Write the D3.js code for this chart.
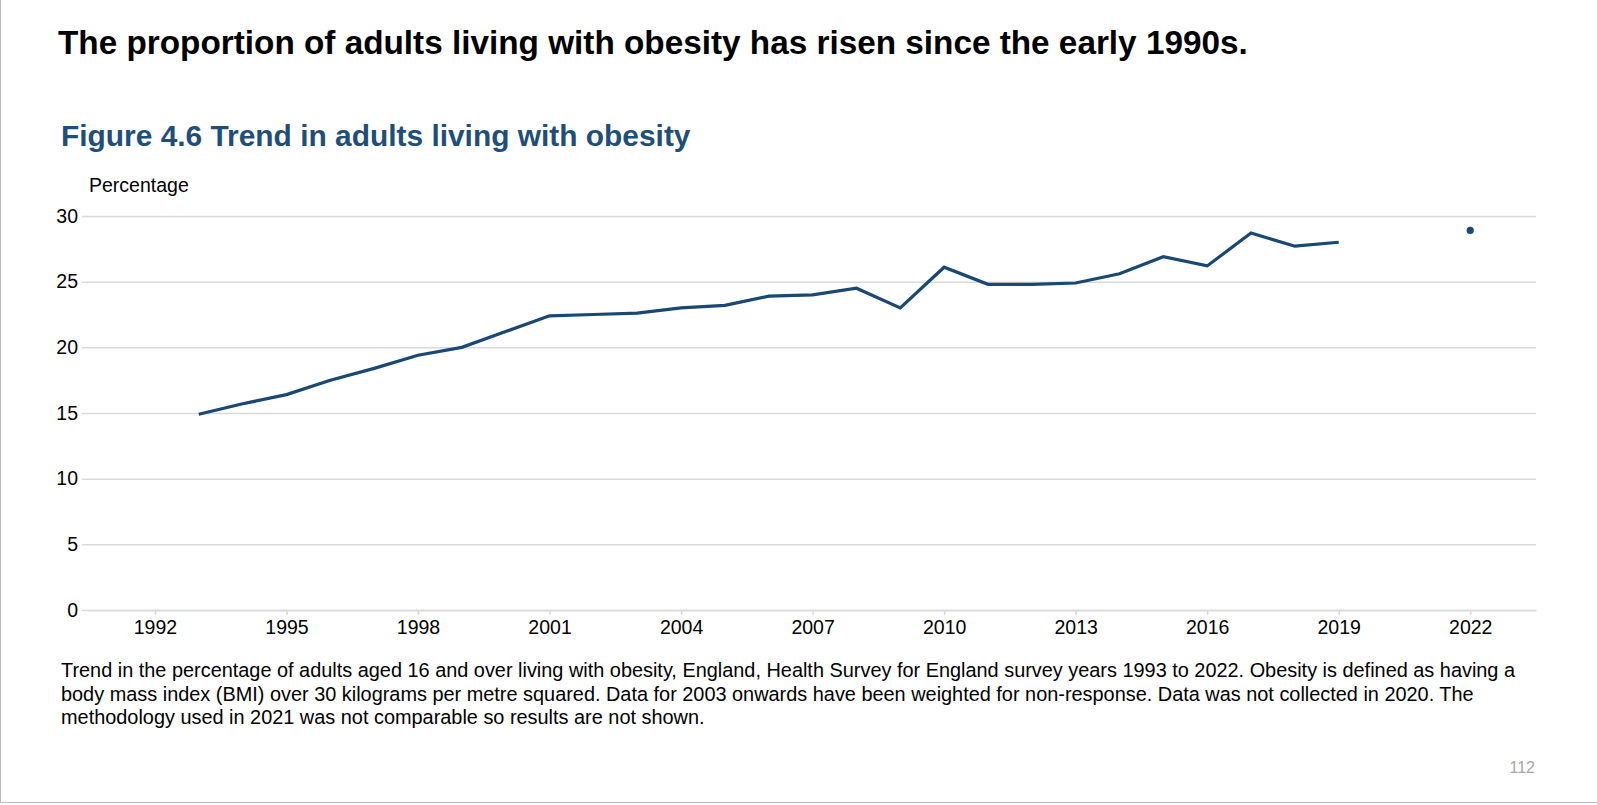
<!DOCTYPE html>
<html>
<head>
<meta charset="utf-8">
<script src="https://cdn.jsdelivr.net/npm/d3@7"></script>
<style>
  body { margin: 0; background: #fff; }
  svg { display: block; font-family: "Liberation Sans", Arial, sans-serif; }
</style>
</head>
<body>
<div id="chart"></div>
<script>
// survey years and % of adults living with obesity (null = not shown)
const years = [1993, 1994, 1995, 1996, 1997, 1998, 1999, 2000, 2001, 2002,
  2003, 2004, 2005, 2006, 2007, 2008, 2009, 2010, 2011, 2012,
  2013, 2014, 2015, 2016, 2017, 2018, 2019, 2020, 2021, 2022];
const obesity = [14.9, 15.7, 16.4, 17.5, 18.4, 19.4, 20.0, 21.2, 22.4, 22.5,
  22.6, 23.0, 23.2, 23.9, 24.0, 24.5, 23.0, 26.1, 24.8, 24.8,
  24.9, 25.6, 26.9, 26.2, 28.7, 27.7, 28.0, null, null, 28.9];

const xTicks = [1992, 1995, 1998, 2001, 2004, 2007, 2010, 2013, 2016, 2019, 2022];
const yTicks = [0, 5, 10, 15, 20, 25, 30];

const headline = "The proportion of adults living with obesity has risen since the early 1990s.";
const figureTitle = "Figure 4.6 Trend in adults living with obesity";
const yLabel = "Percentage";
const footnote = [
  "Trend in the percentage of adults aged 16 and over living with obesity, England, Health Survey for England survey years 1993 to 2022. Obesity is defined as having a",
  "body mass index (BMI) over 30 kilograms per metre squared. Data for 2003 onwards have been weighted for non-response. Data was not collected in 2020. The",
  "methodology used in 2021 was not comparable so results are not shown."
];
const pageNumber = "112";

const width = 1597, height = 805;
const margin = { top: 216, right: 61, bottom: 195, left: 87 };
const lineColor = "#1a4873";

const svg = d3.select("#chart")
  .append("svg")
  .attr("width", width)
  .attr("height", height);

// page frame (left and bottom edges)
svg.append("line")
  .attr("x1", 0.5).attr("x2", 0.5).attr("y1", 0).attr("y2", height - 2)
  .attr("stroke", "#bdbdbd");
svg.append("line")
  .attr("x1", 0).attr("x2", width).attr("y1", height - 2.5).attr("y2", height - 2.5)
  .attr("stroke", "#bdbdbd");

svg.append("text")
  .attr("x", 58).attr("y", 54)
  .attr("font-size", 33.3).attr("font-weight", "bold")
  .attr("fill", "#000")
  .text(headline);

svg.append("text")
  .attr("x", 61).attr("y", 146)
  .attr("font-size", 29.9).attr("font-weight", "bold")
  .attr("fill", "#1f4e79")
  .text(figureTitle);

svg.append("text")
  .attr("x", 89).attr("y", 192)
  .attr("font-size", 19.5)
  .attr("fill", "#000")
  .text(yLabel);

const x = d3.scaleLinear()
  .domain([1990.45, 2023.5])
  .range([margin.left, width - margin.right]);

const y = d3.scaleLinear()
  .domain([0, 30])
  .range([height - margin.bottom, margin.top]);

// y gridlines + labels
const yAxis = svg.append("g")
  .attr("transform", `translate(${margin.left},0)`)
  .call(d3.axisLeft(y)
    .tickValues(yTicks)
    .tickSize(-(width - margin.left - margin.right))
    .tickPadding(9)
    .tickFormat(d3.format("d")));
yAxis.select(".domain").remove();
yAxis.selectAll(".tick line")
  .attr("stroke", "#d9d9d9")
  .attr("stroke-width", 1.5)
  .attr("x1", -5);
yAxis.selectAll(".tick text")
  .attr("font-family", "Liberation Sans, Arial, sans-serif")
  .attr("font-size", 19.5)
  .attr("fill", "#000");

// x axis
const xAxis = svg.append("g")
  .attr("transform", `translate(0,${height - margin.bottom})`)
  .call(d3.axisBottom(x)
    .tickValues(xTicks)
    .tickSize(5)
    .tickSizeOuter(0)
    .tickPadding(5)
    .tickFormat(d3.format("d")));
xAxis.select(".domain")
  .attr("stroke", "#d9d9d9")
  .attr("stroke-width", 1.5);
xAxis.selectAll(".tick line")
  .attr("stroke", "#d9d9d9")
  .attr("stroke-width", 1.5);
xAxis.selectAll(".tick text")
  .attr("font-family", "Liberation Sans, Arial, sans-serif")
  .attr("font-size", 19.5)
  .attr("fill", "#000");

const points = years.map((yr, i) => ({ year: yr, value: obesity[i] }));

const line = d3.line()
  .defined(d => d.value != null)
  .x(d => x(d.year))
  .y(d => y(d.value));

svg.append("path")
  .datum(points)
  .attr("fill", "none")
  .attr("stroke", lineColor)
  .attr("stroke-width", 3.2)
  .attr("stroke-linejoin", "miter")
  .attr("d", line);

// isolated points (no neighbour either side) drawn as dots
const lonely = points.filter((d, i) =>
  d.value != null &&
  (i === 0 || points[i - 1].value == null) &&
  (i === points.length - 1 || points[i + 1].value == null));

svg.selectAll("circle.dot")
  .data(lonely)
  .enter()
  .append("circle")
  .attr("class", "dot")
  .attr("cx", d => x(d.year))
  .attr("cy", d => y(d.value))
  .attr("r", 3.6)
  .attr("fill", lineColor);

// footnote
svg.append("g")
  .selectAll("text")
  .data(footnote)
  .enter()
  .append("text")
  .attr("x", 61)
  .attr("y", (d, i) => 677 + i * 23.5)
  .attr("font-size", 19.9)
  .attr("fill", "#000")
  .text(d => d);

svg.append("text")
  .attr("x", 1535).attr("y", 773)
  .attr("text-anchor", "end")
  .attr("font-size", 16)
  .attr("fill", "#a6a6a6")
  .text(pageNumber);
</script>
</body>
</html>
